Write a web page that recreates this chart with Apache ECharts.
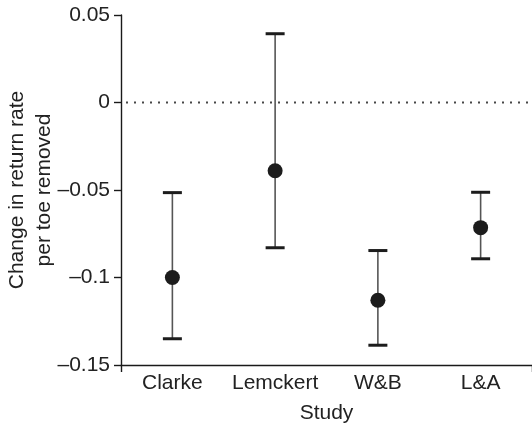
<!DOCTYPE html>
<html>
<head>
<meta charset="utf-8">
<script src="https://cdn.jsdelivr.net/npm/echarts@6/dist/echarts.min.js"></script>
<style>
  html, body { margin: 0; padding: 0; background: #fff; }
  #chart { width: 532px; height: 426px; }
</style>
</head>
<body>
<div id="chart"></div>
<script>
// Studies and their estimated effect with confidence limits
const studies = ['Clarke', 'Lemckert', 'W&B', 'L&A'];
const estimates = [-0.100, -0.039, -0.113, -0.0715];
const lowerLimits = [-0.135, -0.083, -0.1387, -0.0893];
const upperLimits = [-0.0515, 0.0393, -0.0846, -0.0513];
const yTicks = [-0.15, -0.1, -0.05, 0, 0.05];
const referenceValue = 0;

const FONT = '"Liberation Sans", Arial, Helvetica, sans-serif';
const TEXT = '#222';

const chart = echarts.init(document.getElementById('chart'), null, { renderer: 'canvas' });

const barData = studies.map((s, i) => [i, lowerLimits[i], upperLimits[i]]);
const pointData = studies.map((s, i) => [i, estimates[i]]);

// dotted horizontal reference line: small square dots spaced along the plot width
function referenceDots(params, api) {
  const cs = params.coordSys;
  const y0 = api.coord([0, referenceValue])[1];
  const dots = [];
  const step = 8;
  const size = 1.8;
  for (let x = cs.x + 6; x < cs.x + cs.width; x += step) {
    dots.push({
      type: 'rect',
      shape: { x: x - size / 2, y: y0 - size / 2, width: size, height: size },
      style: { fill: '#333' }
    });
  }
  return dots;
}

function renderErrorBar(params, api) {
  const x = api.value(0);
  const lo = api.coord([x, api.value(1)]);
  const hi = api.coord([x, api.value(2)]);
  const half = 9.5;
  const children = params.dataIndex === 0 ? referenceDots(params, api) : [];
  children.push(
    {
      type: 'line',
      shape: { x1: lo[0], y1: lo[1], x2: hi[0], y2: hi[1] },
      style: { stroke: '#555', lineWidth: 1.6 }
    },
    {
      type: 'line',
      shape: { x1: hi[0] - half, y1: hi[1], x2: hi[0] + half, y2: hi[1] },
      style: { stroke: '#1c1c1c', lineWidth: 3 }
    },
    {
      type: 'line',
      shape: { x1: lo[0] - half, y1: lo[1], x2: lo[0] + half, y2: lo[1] },
      style: { stroke: '#1c1c1c', lineWidth: 3 }
    }
  );
  return { type: 'group', children };
}

chart.setOption({
  animation: false,
  backgroundColor: '#fff',
  grid: { left: 121, right: 0, top: 15, bottom: 61, containLabel: false, outerBoundsMode: 'none' },
  xAxis: {
    type: 'category',
    data: studies,
    boundaryGap: true,
    name: 'Study',
    nameLocation: 'middle',
    nameGap: 38,
    nameMoveOverlap: false,
    nameTextStyle: { fontFamily: FONT, fontSize: 21, color: TEXT },
    axisLine: { show: true, onZero: false, lineStyle: { color: '#1a1a1a', width: 1.4 } },
    axisTick: { show: true, interval: (i) => i === 0, length: 7, lineStyle: { color: '#1a1a1a', width: 1.4 } },
    axisLabel: { fontFamily: FONT, fontSize: 21, color: TEXT, margin: 8, interval: 0 },
    splitLine: { show: false }
  },
  yAxis: {
    type: 'value',
    min: yTicks[0],
    max: yTicks[yTicks.length - 1],
    interval: 0.05,
    name: 'Change in return rate\nper toe removed',
    nameLocation: 'middle',
    nameGap: 63,
    nameRotate: 90,
    nameMoveOverlap: false,
    nameTextStyle: { fontFamily: FONT, fontSize: 21, color: TEXT, lineHeight: 27 },
    axisLine: { show: true, onZero: false, lineStyle: { color: '#1a1a1a', width: 1.4 } },
    axisTick: { show: true, length: 7, lineStyle: { color: '#1a1a1a', width: 1.4 } },
    axisLabel: {
      fontFamily: FONT, fontSize: 21, color: TEXT, margin: 11,
      formatter: (v) => String(+v.toFixed(2)).replace('-', '\u2013')
    },
    splitLine: { show: false }
  },
  series: [
    {
      type: 'custom',
      data: barData,
      renderItem: renderErrorBar,
      encode: { x: 0, y: [1, 2] },
      clip: false,
      z: 2
    },
    {
      type: 'scatter',
      data: pointData,
      symbol: 'circle',
      symbolSize: 15,
      itemStyle: { color: '#1c1c1c', opacity: 1 },
      z: 3
    }
  ]
});
</script>
</body>
</html>
